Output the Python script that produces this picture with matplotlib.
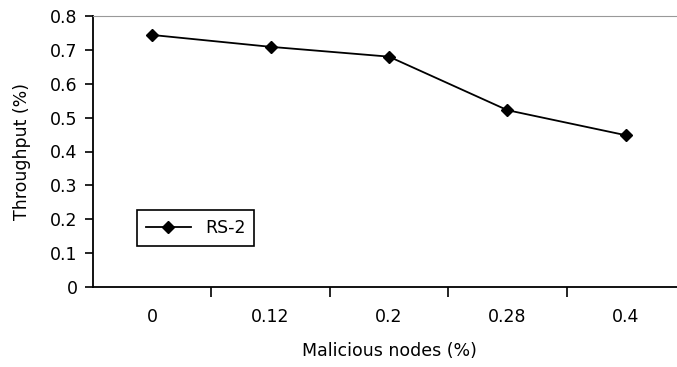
# Throughput vs malicious nodes, RS-2

import matplotlib
matplotlib.use('Agg')
import matplotlib.pyplot as plt

categories = ['0', '0.12', '0.2', '0.28', '0.4']
throughput = [0.744, 0.709, 0.680, 0.522, 0.448]
yticks = [0, 0.1, 0.2, 0.3, 0.4, 0.5, 0.6, 0.7, 0.8]

plt.rcParams['font.family'] = ['DejaVu Sans']
fs = 12.5

fig = plt.figure(figsize=(6.77, 3.67), dpi=100)
# right edge runs past the figure, like the cropped original
ax = fig.add_axes([93 / 677, (367 - 287) / 367, (685 - 93) / 677, (287 - 16) / 367])

pos = list(range(len(categories)))
ax.plot(pos, throughput, color='black', linewidth=1.3, marker='D',
        markersize=6, label='RS-2')

ax.set_xlim(-0.5, len(categories) - 0.5)
ax.set_ylim(0, 0.8)
ax.set_yticks(yticks)
ax.set_yticklabels(['0' if v == 0 else '%g' % v for v in yticks], fontsize=fs)

# category labels centred, ticks between categories
ax.set_xticks(pos)
ax.set_xticklabels(categories, fontsize=fs)
ax.tick_params(axis='x', which='major', length=0, pad=15)
ax.set_xticks([p + 0.5 for p in pos[:-1]], minor=True)
ax.tick_params(axis='x', which='minor', length=7, width=1.2, direction='out')
ax.tick_params(axis='y', length=6, width=1.2, direction='out', pad=5)

for s in ['left', 'bottom']:
    ax.spines[s].set_linewidth(1.3)
ax.spines['right'].set_visible(False)
ax.spines['top'].set_color('#999999')

ax.set_xlabel('Malicious nodes (%)', fontsize=fs, labelpad=12)
ax.set_ylabel('Throughput (%)', fontsize=fs, labelpad=14)

leg = ax.legend(loc='lower left', bbox_to_anchor=(0.06, 0.12), fontsize=fs,
                fancybox=False, framealpha=1, edgecolor='black',
                handlelength=2.6, borderpad=0.5)
leg.get_frame().set_linewidth(1.2)

fig.savefig('out.png', dpi=100)
